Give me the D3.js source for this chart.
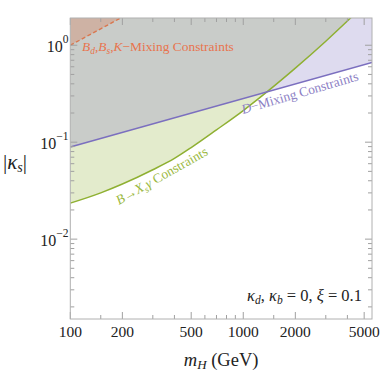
<!DOCTYPE html>
<html>
<head>
<meta charset="utf-8">
<script src="https://cdn.jsdelivr.net/npm/d3@7"></script>
<style>
  body { margin: 0; background: #fff; }
</style>
</head>
<body>
<div id="chart"></div>
<script>
// data (m_H in GeV, |kappa_s|)
var bsgCurve = [[100, 0.0235], [150, 0.0300], [200, 0.0370], [300, 0.052], [400, 0.068],
  [500, 0.088], [700, 0.134], [1000, 0.212], [1365, 0.328], [2000, 0.58], [3000, 1.1], [4200, 1.93]];
var dMixLine = [[100, 0.0892], [5550, 0.664]];
var bMixLine = [[100, 1.0], [205, 2.0]];

var xMajor = [100, 200, 500, 1000, 2000, 5000];
var xMinor = [150, 300, 400, 600, 700, 800, 900, 1500, 3000, 4000];
var yMajor = [0.01, 0.1, 1];
var yMajorExp = ["\u22122", "\u22121", "0"];
var yMinor = [0.002, 0.003, 0.004, 0.005, 0.006, 0.007, 0.008, 0.009,
  0.02, 0.03, 0.04, 0.05, 0.06, 0.07, 0.08, 0.09,
  0.2, 0.3, 0.4, 0.5, 0.6, 0.7, 0.8, 0.9];

var W = 390, H = 390;
var pLeft = 70.3, pRight = 372, pTop = 18, pBottom = 319;

var svg = d3.select("#chart").append("svg")
  .attr("width", W).attr("height", H)
  .attr("font-family", "'Liberation Serif', 'DejaVu Serif', serif");

var x = d3.scaleLog().domain([100, 5550]).range([pLeft, pRight]);
var y = d3.scaleLog().domain([0.0015, 1.91]).range([pBottom, pTop]);

svg.append("clipPath").attr("id", "plotclip")
  .append("rect").attr("x", pLeft).attr("y", pTop)
  .attr("width", pRight - pLeft).attr("height", pBottom - pTop);

var plot = svg.append("g").attr("clip-path", "url(#plotclip)");

// filled regions (above each constraint line)
var areaTop = function (curve) {
  return d3.area()
    .curve(curve)
    .x(function (d) { return x(d[0]); })
    .y0(pTop - 5)
    .y1(function (d) { return y(d[1]); });
};
var lineOf = function (curve) {
  return d3.line()
    .curve(curve)
    .x(function (d) { return x(d[0]); })
    .y(function (d) { return y(d[1]); });
};

var greenC = "rgb(143,176,50)", purpleC = "rgb(123,111,191)", orangeC = "rgb(217,119,79)";

plot.append("path")
  .datum(bsgCurve)
  .attr("fill", greenC).attr("fill-opacity", 0.25)
  .attr("d", areaTop(d3.curveMonotoneX));

plot.append("path")
  .datum(dMixLine)
  .attr("fill", purpleC).attr("fill-opacity", 0.25)
  .attr("d", areaTop(d3.curveLinear));

plot.append("path")
  .datum(bMixLine)
  .attr("fill", orangeC).attr("fill-opacity", 0.3)
  .attr("d", areaTop(d3.curveLinear));

// lines
plot.append("path")
  .datum(bsgCurve)
  .attr("fill", "none").attr("stroke", greenC).attr("stroke-width", 1.5)
  .attr("d", lineOf(d3.curveMonotoneX));

plot.append("path")
  .datum(dMixLine)
  .attr("fill", "none").attr("stroke", purpleC).attr("stroke-width", 1.5)
  .attr("d", lineOf(d3.curveLinear));

plot.append("path")
  .datum(bMixLine)
  .attr("fill", "none").attr("stroke", orangeC).attr("stroke-width", 1.4)
  .attr("stroke-dasharray", "4,2.5")
  .attr("d", lineOf(d3.curveLinear));

// frame and ticks
var tickC = "#a0a0a0";
var ticks = svg.append("g").attr("stroke", tickC).attr("stroke-width", 1);

xMajor.concat(xMinor).forEach(function (v) {
  var len = xMajor.indexOf(v) >= 0 ? 7 : 4;
  var px = x(v);
  ticks.append("line").attr("x1", px).attr("x2", px).attr("y1", pBottom).attr("y2", pBottom - len);
  ticks.append("line").attr("x1", px).attr("x2", px).attr("y1", pTop).attr("y2", pTop + len);
});
yMajor.concat(yMinor).forEach(function (v) {
  var len = yMajor.indexOf(v) >= 0 ? 7 : 4;
  var py = y(v);
  ticks.append("line").attr("x1", pLeft).attr("x2", pLeft + len).attr("y1", py).attr("y2", py);
  ticks.append("line").attr("x1", pRight).attr("x2", pRight - len).attr("y1", py).attr("y2", py);
});

svg.append("rect")
  .attr("x", pLeft).attr("y", pTop)
  .attr("width", pRight - pLeft).attr("height", pBottom - pTop)
  .attr("fill", "none").attr("stroke", "#b0b0b0").attr("stroke-width", 1);

// tick labels
svg.append("g").selectAll("text")
  .data(xMajor)
  .enter().append("text")
  .attr("x", function (d) { return x(d); })
  .attr("y", 337)
  .attr("text-anchor", "middle")
  .attr("font-size", 15.5)
  .attr("fill", "#222")
  .text(function (d) { return d; });

yMajor.forEach(function (v, i) {
  var t = svg.append("text")
    .attr("x", 68.5)
    .attr("y", y(v) + 6.5)
    .attr("text-anchor", "end")
    .attr("font-size", 16)
    .attr("fill", "#222");
  t.append("tspan").text("10");
  t.append("tspan").attr("dy", -8.5).attr("font-size", 11.5).text(yMajorExp[i]);
});

// axis titles
var xt = svg.append("text")
  .attr("x", (pLeft + pRight) / 2).attr("y", 366)
  .attr("text-anchor", "middle")
  .attr("font-size", 18.5).attr("fill", "#222");
xt.append("tspan").attr("font-style", "italic").text("m");
xt.append("tspan").attr("font-style", "italic").attr("font-size", 13).attr("dy", 3).text("H");
xt.append("tspan").attr("dy", -3).text(" (GeV)");

var yt = svg.append("text")
  .attr("x", 3).attr("y", 169)
  .attr("font-size", 21).attr("fill", "#222");
yt.append("tspan").text("|");
yt.append("tspan").attr("font-style", "italic").text("\u03ba");
yt.append("tspan").attr("font-style", "italic").attr("font-size", 14).attr("dy", 3).text("s");
yt.append("tspan").attr("dy", -3).text("|");

// annotation
var an = svg.append("text")
  .attr("x", 362).attr("y", 301)
  .attr("text-anchor", "end")
  .attr("font-size", 16.5).attr("fill", "#222");
an.append("tspan").attr("font-style", "italic").text("\u03ba");
an.append("tspan").attr("font-style", "italic").attr("font-size", 11.5).attr("dy", 3).text("d");
an.append("tspan").attr("dy", -3).text(", ");
an.append("tspan").attr("font-style", "italic").text("\u03ba");
an.append("tspan").attr("font-style", "italic").attr("font-size", 11.5).attr("dy", 3).text("b");
an.append("tspan").attr("dy", -3).text(" = 0, ");
an.append("tspan").attr("font-style", "italic").text("\u03be");
an.append("tspan").text(" = 0.1");

// region labels
var ot = svg.append("text")
  .attr("x", 82).attr("y", 51)
  .attr("font-size", 13.4).attr("fill", "rgb(232,116,78)");
ot.append("tspan").attr("font-style", "italic").text("B");
ot.append("tspan").attr("font-style", "italic").attr("font-size", 9.5).attr("dy", 3).text("d");
ot.append("tspan").attr("dy", -3).text(",");
ot.append("tspan").attr("font-style", "italic").text("B");
ot.append("tspan").attr("font-style", "italic").attr("font-size", 9.5).attr("dy", 3).text("s");
ot.append("tspan").attr("dy", -3).text(",");
ot.append("tspan").attr("font-style", "italic").text("K");
ot.append("tspan").text("\u2212Mixing Constraints");

var pt = svg.append("text")
  .attr("transform", "translate(243,114) rotate(-16.3)")
  .attr("font-size", 13.4).attr("fill", "rgb(140,128,196)");
pt.append("tspan").attr("font-style", "italic").text("D");
pt.append("tspan").text("\u2212Mixing Constraints");

var gt = svg.append("text")
  .attr("transform", "translate(119,205) rotate(-29.5)")
  .attr("font-size", 13.4).attr("fill", "rgb(155,185,65)");
gt.append("tspan").attr("font-style", "italic").text("B");
gt.append("tspan").text("\u2192");
gt.append("tspan").attr("font-style", "italic").text("X");
gt.append("tspan").attr("font-style", "italic").attr("font-size", 9.5).attr("dy", 3).text("s");
gt.append("tspan").attr("font-style", "italic").attr("dy", -3).text("\u03b3");
gt.append("tspan").text(" Constraints");
</script>
</body>
</html>
